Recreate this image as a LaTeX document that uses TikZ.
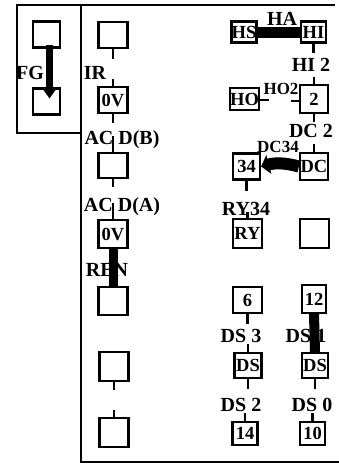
\documentclass[tikz,border=0pt]{standalone}
\usepackage{fontspec}
\setmainfont{Liberation Serif}
\usetikzlibrary{arrows.meta}
\begin{document}
\begin{tikzpicture}[x=1pt,y=-1pt,
  box/.style={draw, line width=2.2pt, minimum width=27pt, minimum height=26pt, inner sep=0pt, font=\fontsize{18.5}{18.5}\selectfont\bfseries},
  sbox/.style={box, minimum width=25pt, minimum height=21pt},
  lbl/.style={inner sep=0pt, font=\fontsize{20}{20}\selectfont\bfseries},
  stem/.style={line width=2.2pt},
  frame/.style={line width=2pt},
  jump/.style={line width=10pt}]
\useasboundingbox (0,0) rectangle (339,464);
% frames
\draw[frame] (17,5) rectangle (81,133);
\draw[frame] (81,5) -- (335,5);
\draw[frame] (81,5) -- (81,462) -- (339,462);
% FG part
\node[box] (fgt) at (46.5,34.5) {};
\node[box] (fgb) at (46.5,101.5) {};
\node[lbl] (fg) at (30,73) {FG};
% left column
\node[box, minimum width=29pt] (b1) at (113,35) {};
\node[box, minimum width=29pt] (b2) at (113,100) {0V};
\node[box, minimum width=29pt, minimum height=25pt] (b3) at (113,165.5) {};
\node[box, minimum width=29pt, minimum height=28pt] (b4) at (113,234) {0V};
\node[box, minimum width=29pt, minimum height=28pt] (b5) at (113,301) {};
\node[box, minimum width=29pt, minimum height=29pt] (b6) at (114,366.5) {};
\node[box, minimum width=29pt, minimum height=29pt] (b7) at (114,432.5) {};
\node[lbl] (ir) at (95,73) {IR};
\node[lbl] (acdb) at (122,140) {AC D(B)};
\node[lbl] (acda) at (122,207) {AC D(A)};
\node[lbl] (ren) at (107,270) {REN};
% middle column
\node[sbox] (hs) at (244,32) {HS};
\node[sbox, minimum height=22pt] (ho) at (244.5,99) {HO};
\node[box] (b34) at (246.5,166.5) {34};
\node[box, minimum width=29pt, minimum height=29pt] (ry) at (247.5,233.5) {RY};
\node[box, minimum width=29pt] (n6) at (247.5,300) {6};
\node[box, minimum height=25pt] (dsm) at (248,365.5) {DS};
\node[sbox, minimum height=23pt] (n14) at (245,433.5) {14};
% right column
\node[sbox] (hi) at (313.5,32) {HI};
\node[box, minimum width=28pt, minimum height=28pt] (n2) at (314,99) {2};
\node[box, minimum width=28pt, minimum height=27pt] (dc) at (314,166.5) {DC};
\node[box, minimum width=29pt, minimum height=29pt] (emp) at (314.5,233.5) {};
\node[box, minimum width=24pt, minimum height=28pt] (n12) at (314,299) {12};
\node[box, minimum width=26pt, minimum height=25pt] (dsr) at (315,365.5) {DS};
\node[sbox, minimum height=23pt] (n10) at (312.5,433.5) {10};
% labels
\node[lbl] (ha) at (282,19) {HA};
\node[lbl] (hi2) at (311,65) {HI 2};
\node[lbl, font=\fontsize{17}{17}\selectfont\bfseries] (ho2) at (281,89) {HO2};
\node[lbl] (dc2) at (311,131) {DC 2};
\node[lbl, font=\fontsize{17}{17}\selectfont\bfseries] (dc34) at (278,146.5) {DC34};
\node[lbl] (ry34) at (246,209) {RY34};
\node[lbl] (ds3) at (241,336) {DS 3};
\node[lbl] (ds1) at (306,336) {DS 1};
\node[lbl] (ds2) at (241,405) {DS 2};
\node[lbl] (ds0) at (312,405) {DS 0};
% stems
\draw[stem] (b1.south) -- ++(0,10);
\draw[stem] (b2.north) -- ++(0,-7);
\draw[stem] (b2.south) -- ++(0,9);
\draw[stem] (b3.north) -- ++(0,-16);
\draw[stem] (b3.south) -- ++(0,8);
\draw[stem] (b4.north) -- ++(0,-16);
\draw[stem] (b6.south) -- ++(0,8);
\draw[stem] (b7.north) -- ++(0,-7);
\draw[stem] (hi.south) -- ++(0,9);
\draw[stem] (n2.north) -- ++(0,-7);
\draw[stem] (n2.south) -- ++(0,8);
\draw[stem] (dc.north) -- ++(0,-8);
\draw[stem] (ho.east) ++(0,1) -- ++(9,0);
\draw[stem] (n2.west) ++(0,2) -- ++(-8,0);
\draw[stem] (b34.south) -- ++(0,10);
\draw[stem] (ry.north) -- ++(0,-6);
\draw[stem] (n6.south) -- ++(0,10);
\draw[stem] (dsm.north) -- ++(0,-8);
\draw[stem] (dsm.south) -- ++(0,10);
\draw[stem] (n14.north) -- ++(0,-8);
\draw[stem] (dsr.south) -- ++(0,10);
\draw[stem] (n10.north) -- ++(0,-8);
% jumps
\draw[line width=7pt, -{Triangle[width=15pt,length=11pt]}] ([xshift=3pt,yshift=4pt]fgt.south) -- ([xshift=3pt,yshift=3pt]fgb.center);
\draw[jump, line width=9pt] (b4.south) -- (b5.north);
\draw[jump, line width=11pt] (hs.east) -- (hi.west);
\draw[jump, line width=12pt, -{Triangle[width=19pt,length=8pt]}] (dc.west) to[bend right=15] (b34.east);
\draw[jump] (n12.south) -- (dsr.north);
\end{tikzpicture}
\end{document}
